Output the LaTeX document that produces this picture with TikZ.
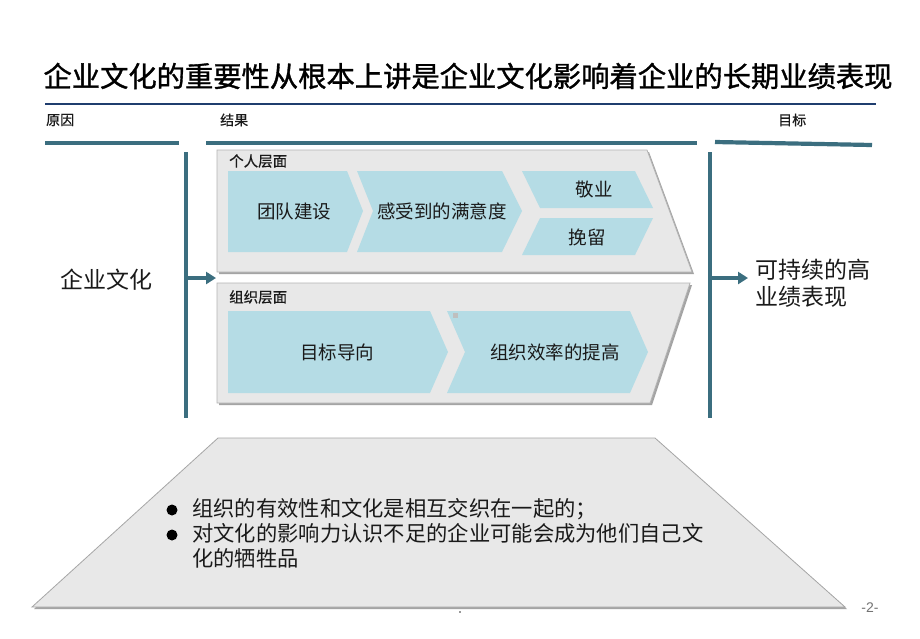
\documentclass[tikz,border=0pt]{standalone}
\usepackage{fontspec}
\setmainfont{Noto Sans CJK SC}
\newfontfamily\latinfont{Liberation Sans}
\newfontfamily\heavycjk{Noto Sans CJK SC}[FakeBold=1.2]
\newfontfamily\midcjk{Noto Sans CJK SC}[FakeBold=0.6]
\usetikzlibrary{arrows.meta}
\definecolor{barcol}{HTML}{3B6E7F}
\definecolor{navy}{HTML}{1F3D6E}
\definecolor{chev}{HTML}{B5DCE5}
\definecolor{panelfill}{HTML}{E8E8E8}
\definecolor{panelline}{HTML}{B4B4B4}
\definecolor{panelshadow}{HTML}{A4A4A4}
\definecolor{txt}{HTML}{1A1A1A}
\tikzset{
  fs/.style={font=\fontsize{#1}{#1}\selectfont},
  barline/.style={draw=barcol, line width=4.2pt},
  flowarrow/.style={draw=barcol, line width=4pt, -{Triangle[length=10pt,width=12pt]}},
  chevshape/.style={fill=chev, draw=none},
  panelshape/.style={fill=panelfill, draw=panelline, line width=0.8pt},
  shadowshape/.style={fill=panelshadow, draw=none},
  lbl/.style={inner sep=0pt, text=txt},
}
\begin{document}
\begin{tikzpicture}[x=1pt,y=-1pt]
\useasboundingbox[fill=white] (0,0) rectangle (920,638);

% title
\node[lbl, text=black, font=\heavycjk\fontsize{28.3}{28.3}\selectfont] (title) at (468,76) {企业文化的重要性从根本上讲是企业文化影响着企业的长期业绩表现};
\draw[navy, line width=1.3pt] (45,104) -- (876,104);

% header labels
\node[lbl, anchor=west, font=\midcjk\fontsize{14}{14}\selectfont] (cause) at (46,120) {原因};
\node[lbl, anchor=west, font=\midcjk\fontsize{14}{14}\selectfont] (result) at (220,120) {结果};
\node[lbl, anchor=west, font=\midcjk\fontsize{14}{14}\selectfont] (goal) at (778,120) {目标};

% header bars
\draw[barline] (45,143) -- (179,143);
\draw[barline] (206,143) -- (697,143);
\draw[barline] (715,142) -- (872,145);

% vertical bars
\draw[barline] (186,152) -- (186,418);
\draw[barline] (710,152) -- (710,418);

% panel 1
\fill[shadowshape] (219,152) -- (649,152) -- (694,274) -- (219,274) -- cycle;
\draw[panelshape] (217,150) -- (647,150) -- (692,272) -- (217,272) -- cycle;
\node[lbl, anchor=west, font=\midcjk\fontsize{14.5}{14.5}\selectfont] (pers) at (229,161) {个人层面};
\fill[chevshape] (228,171) -- (347,171) -- (363,211) -- (347,252) -- (228,252) -- cycle;
\fill[chevshape] (357,171) -- (502,171) -- (522,211) -- (502,252) -- (357,252) -- (373,211) -- cycle;
\fill[chevshape] (522,171) -- (635,171) -- (653,208) -- (540,208) -- cycle;
\fill[chevshape] (540,218) -- (653,218) -- (635,255) -- (522,255) -- cycle;
\node[lbl, fs=18.5] (team) at (294,211) {团队建设};
\node[lbl, fs=18.5] (satis) at (442,211) {感受到的满意度};
\node[lbl, fs=18.5] (dedic) at (594,189) {敬业};
\node[lbl, fs=18.5] (retain) at (587,237) {挽留};

% panel 2
\fill[shadowshape] (219,285) -- (692,285) -- (652,405) -- (219,405) -- cycle;
\draw[panelshape] (217,283) -- (690,283) -- (650,403) -- (217,403) -- cycle;
\node[lbl, anchor=west, font=\midcjk\fontsize{14.5}{14.5}\selectfont] (org) at (229,297) {组织层面};
\fill[chevshape] (228,311) -- (430,311) -- (448,352) -- (430,393) -- (228,393) -- cycle;
\fill[chevshape] (447,311) -- (630,311) -- (648,352) -- (630,393) -- (447,393) -- (465,352) -- cycle;
\fill[black!25] (453,313) rectangle (458,318);
\node[lbl, fs=18.5] (target) at (337,352) {目标导向};
\node[lbl, fs=18.5] (effic) at (555,352) {组织效率的提高};

% left / right texts
\node[lbl, fs=23] (culture) at (106,280) {企业文化};
\node[lbl, anchor=west, align=left, font=\fontsize{23}{27}\selectfont] (perf) at (755,283) {可持续的高\\业绩表现};

% arrows
\coordinate (lbar) at (186,278);
\coordinate (panelin) at (216,278);
\coordinate (rbar) at (712,278);
\coordinate (perfin) at (748,278);
\draw[flowarrow] (lbar) -- (panelin);
\draw[flowarrow] (rbar) -- (perfin);

% bottom trapezoid
\fill[shadowshape] (220,440) -- (657,440) -- (847,609) -- (34,609) -- cycle;
\draw[panelshape, draw=black!35] (218,438) -- (655,438) -- (845,607) -- (32,607) -- cycle;
\fill[black] (172,510) circle (5.5);
\fill[black] (172,535) circle (5.5);
\node[lbl, anchor=north west, align=left, font=\fontsize{21.3}{25}\selectfont] (notes) at (192,498) {组织的有效性和文化是相互交织在一起的；\\对文化的影响力认识不足的企业可能会成为他们自己文\\化的牺牲品};

\fill[black!40] (459,611) rectangle (461,613);
\node[lbl, text=black!55, font=\latinfont\fontsize{14}{14}\selectfont] (page) at (870,608) {-2-};
\end{tikzpicture}
\end{document}
